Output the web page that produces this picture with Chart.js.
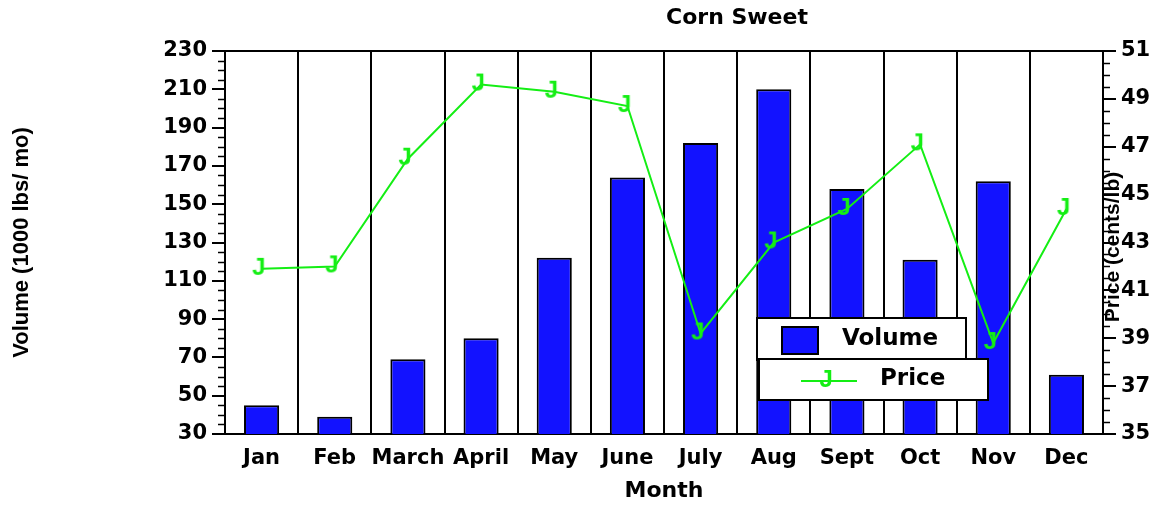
<!DOCTYPE html>
<html>
<head>
<meta charset="utf-8">
<title>Corn Sweet</title>
<script src="https://cdn.jsdelivr.net/npm/chart.js@4.4.1/dist/chart.umd.min.js"></script>
<style>
  html, body { margin: 0; padding: 0; background: #fff; }
  canvas { display: block; }
</style>
</head>
<body>
<canvas id="chart" width="1157" height="506"></canvas>
<script>
// data
const months = ['Jan', 'Feb', 'March', 'April', 'May', 'June', 'July', 'Aug', 'Sept', 'Oct', 'Nov', 'Dec'];
const volume = [45, 39, 69, 80, 122, 164, 182, 210, 158, 121, 162, 61];
const price = [41.9, 42.0, 46.5, 49.6, 49.3, 48.7, 39.2, 43.0, 44.4, 47.1, 38.8, 44.4];
const volumeTickLabels = [30, 50, 70, 90, 110, 130, 150, 170, 190, 210, 230];
const priceTickLabels = [35, 37, 39, 41, 43, 45, 47, 49, 51];

const BLUE = '#1212ff';
const GREEN = '#14ee14';

// the "J" marker used for the price points
function makeMarker() {
  const c = document.createElement('canvas');
  c.width = 32;
  c.height = 36;
  const g = c.getContext('2d');
  g.fillStyle = GREEN;
  g.font = 'bold 24px "Liberation Sans", Arial, sans-serif';
  g.textAlign = 'left';
  g.textBaseline = 'alphabetic';
  g.fillText('J', 16 - 9.5, 18 + 6);
  return c;
}

// frame, minor ticks, title, right axis title and the two legend boxes
function decorPlugin(jMark) {
  return {
    id: 'decor',
    afterDraw(chart) {
      const { ctx, chartArea: a, scales } = chart;
      ctx.save();
      ctx.strokeStyle = '#000';
      ctx.fillStyle = '#000';

      // top edge of the frame
      ctx.lineWidth = 2;
      ctx.beginPath();
      ctx.moveTo(a.left - 1, a.top);
      ctx.lineTo(a.right + 1, a.top);
      ctx.stroke();

      // minor ticks
      ctx.lineWidth = 1.5;
      [[scales.y, a.left, -1, volumeTickLabels], [scales.y1, a.right, 1, priceTickLabels]].forEach(([s, x0, dir, majors]) => {
        s.ticks.forEach(t => {
          if (majors.includes(t.value)) return;
          const y = Math.round(s.getPixelForValue(t.value)) + 0.5;
          ctx.beginPath();
          ctx.moveTo(x0, y);
          ctx.lineTo(x0 + dir * 7, y);
          ctx.stroke();
        });
      });

      // chart title
      ctx.font = 'bold 22px "DejaVu Sans"';
      ctx.textAlign = 'center';
      ctx.textBaseline = 'middle';
      ctx.fillText('Corn Sweet', 737, 18);

      // right axis title, reads bottom to top
      ctx.save();
      ctx.translate(1113, 247);
      ctx.rotate(-Math.PI / 2);
      ctx.font = 'bold 21px "Liberation Sans"';
      ctx.fillText('Price (cents/lb)', 0, 0);
      ctx.restore();

      // legend
      const [bars, line] = chart.data.datasets;
      ctx.lineWidth = 2;
      ctx.fillStyle = '#fff';
      ctx.fillRect(757, 318, 209, 42);
      ctx.strokeRect(757, 318, 209, 42);
      ctx.fillStyle = bars.backgroundColor;
      ctx.fillRect(782, 327, 36, 27);
      ctx.strokeRect(782, 327, 36, 27);

      ctx.fillStyle = '#fff';
      ctx.fillRect(759, 359, 229, 41);
      ctx.strokeRect(759, 359, 229, 41);
      ctx.strokeStyle = line.borderColor;
      ctx.beginPath();
      ctx.moveTo(801, 381);
      ctx.lineTo(857, 381);
      ctx.stroke();
      ctx.drawImage(jMark, 829 - jMark.width / 2, 381 - jMark.height / 2);

      ctx.fillStyle = '#000';
      ctx.font = 'bold 23px "DejaVu Sans"';
      ctx.textAlign = 'left';
      ctx.fillText(bars.label, 842, 339);
      ctx.fillText(line.label, 880, 379);
      ctx.restore();
    }
  };
}

function build() {
  const jMark = makeMarker();

  Chart.defaults.font.family = '"DejaVu Sans"';
  Chart.defaults.font.weight = 'bold';
  Chart.defaults.color = '#000';

  const tickFont = { size: 21, weight: 'bold' };

  new Chart(document.getElementById('chart'), {
    data: {
      labels: months,
      datasets: [
        {
          type: 'bar',
          label: 'Volume',
          data: volume,
          yAxisID: 'y',
          backgroundColor: BLUE,
          borderColor: '#000',
          borderWidth: 2,
          borderSkipped: false,
          barPercentage: 0.48,
          categoryPercentage: 1,
          order: 2
        },
        {
          type: 'line',
          label: 'Price',
          data: price,
          yAxisID: 'y1',
          borderColor: GREEN,
          borderWidth: 2,
          tension: 0,
          pointStyle: jMark,
          pointRadius: 6,
          order: 1
        }
      ]
    },
    options: {
      responsive: false,
      animation: false,
      devicePixelRatio: 1,
      layout: { padding: { top: 51, left: 0, right: 0, bottom: 0 } },
      plugins: {
        legend: { display: false },
        tooltip: { enabled: false }
      },
      scales: {
        x: {
          type: 'category',
          offset: true,
          grid: { offset: true, color: '#000', lineWidth: 2, drawTicks: false },
          border: { color: '#000', width: 2 },
          ticks: { font: tickFont, color: '#000', padding: 12, maxRotation: 0, minRotation: 0, autoSkip: false },
          title: {
            display: true,
            text: 'Month',
            font: { size: 22, weight: 'bold' },
            color: '#000',
            padding: { top: 0, bottom: 2 }
          },
          afterFit: s => { s.height = 72; }
        },
        y: {
          position: 'left',
          min: 30,
          max: 230,
          ticks: {
            stepSize: 5,
            autoSkip: false,
            padding: 5,
            font: tickFont,
            color: '#000',
            callback: v => volumeTickLabels.includes(v) ? v : ''
          },
          grid: {
            drawOnChartArea: false,
            drawTicks: true,
            tickLength: 13,
            lineWidth: 2,
            tickColor: c => volumeTickLabels.includes(c.tick.value) ? '#000' : 'rgba(0,0,0,0)'
          },
          border: { color: '#000', width: 2 },
          title: {
            display: true,
            text: 'Volume (1000 lbs/ mo)',
            font: { family: '"Liberation Sans"', size: 22, weight: 'bold' },
            color: '#000',
            padding: { top: 9, bottom: 0 }
          },
          afterFit: s => { s.width = 225; }
        },
        y1: {
          position: 'right',
          min: 35,
          max: 51,
          ticks: {
            stepSize: 0.5,
            autoSkip: false,
            padding: 5,
            font: tickFont,
            color: '#000',
            callback: v => priceTickLabels.includes(v) ? v : ''
          },
          grid: {
            drawOnChartArea: false,
            drawTicks: true,
            tickLength: 13,
            lineWidth: 2,
            tickColor: c => priceTickLabels.includes(c.tick.value) ? '#000' : 'rgba(0,0,0,0)'
          },
          border: { color: '#000', width: 2 },
          afterFit: s => { s.width = 54; }
        }
      }
    },
    plugins: [decorPlugin(jMark)]
  });
}

// make sure the marker font is ready before it is drawn into its canvas
Promise.all([
  document.fonts.load('bold 24px "Liberation Sans"'),
  document.fonts.load('bold 21px "DejaVu Sans"')
]).then(build, build);
</script>
</body>
</html>
